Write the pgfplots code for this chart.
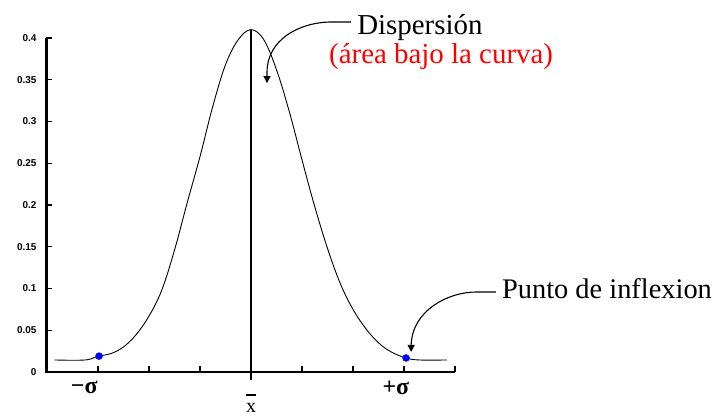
\documentclass[border=0pt]{standalone}
\usepackage{fontspec}
\setmainfont{Liberation Serif}
\newfontfamily\labelsans{Liberation Sans}
\usepackage{pgfplots}
\pgfplotsset{compat=1.18}
\usetikzlibrary{arrows.meta}
\begin{document}
\begin{tikzpicture}
\path[use as bounding box] (0,0) rectangle (720bp,416bp);
\begin{axis}[
  at={(46bp,44bp)}, anchor=south west,
  width=409bp, height=334bp, scale only axis,
  xmin=-4.02, xmax=4.0, ymin=0, ymax=0.4,
  axis x line*=bottom, axis y line*=left,
  axis line style={black, line width=2bp},
  tick align=inside, major tick length=6bp,
  tick style={black, line width=1.3bp},
  xtick={-3,-2,-1,1,2,3,4}, xticklabels={},
  ytick={0,0.05,0.1,0.15,0.2,0.25,0.3,0.35,0.4},
  yticklabels={0,0.05,0.1,0.15,0.2,0.25,0.3,0.35,0.4},
  yticklabel style={font=\labelsans\bfseries\fontsize{10}{10}\selectfont, xshift=-6bp},
  clip=false,
]
% frame lines
\addplot[black, line width=2bp] coordinates {(-4.02,0.4) (-4.02,0) (4.0,0)};
\addplot[black, line width=1.6bp] coordinates {(-3.995,0.4) (-3.995,0)};
% normal curve with flat tails
\addplot[black, line width=0.9bp, smooth, tension=0.6] coordinates {
  (-3.85,0.0144) (-3.25,0.0144) (-3.0,0.019) (-2.75,0.022) (-2.5,0.030)
  (-2.25,0.045) (-2.0,0.067) (-1.75,0.098) (-1.5,0.146) (-1.25,0.203)
  (-1.0,0.258) (-0.75,0.318) (-0.5,0.368) (-0.25,0.398) (0,0.41)
  (0.25,0.398) (0.5,0.362) (0.75,0.312) (1.0,0.254) (1.25,0.198)
  (1.5,0.148) (1.75,0.106) (2.0,0.075) (2.25,0.052) (2.5,0.035)
  (2.75,0.024) (3.04,0.0168) (3.3,0.0144) (3.84,0.0144)
};
% mean
\addplot[black, line width=1.6bp] coordinates {(0,-0.0096) (0,0.41)};
% inflection points
\addplot[only marks, mark=*, mark size=3.5bp, blue] coordinates {(-2.98,0.019) (3.04,0.0168)};

% axis labels
\node[font=\bfseries\fontsize{24}{24}\selectfont, inner sep=0] at (axis cs:-3.27,-0.019) {−σ};
\node[font=\bfseries\fontsize{24}{24}\selectfont, inner sep=0] at (axis cs:2.84,-0.019) {+σ};
\node[font=\fontsize{20}{20}\selectfont, inner sep=0] at (axis cs:0,-0.043) {x};
\draw[black, line width=1.4bp] (axis cs:-0.1,-0.0275) -- (axis cs:0.1,-0.0275);

% annotations
\draw[line width=1.1bp, -{Triangle[width=7bp,length=7bp]}]
  (axis cs:1.96,0.4192) -- (axis cs:1.59,0.4192)
  .. controls (axis cs:0.94,0.4192) and (axis cs:0.314,0.3976) .. (axis cs:0.314,0.3593)
  -- (axis cs:0.314,0.346);
\draw[line width=1.1bp, -{Triangle[width=7bp,length=7bp]}]
  (axis cs:4.80,0.0958) -- (axis cs:4.41,0.0958)
  .. controls (axis cs:3.88,0.0958) and (axis cs:3.16,0.0743) .. (axis cs:3.14,0.0323)
  -- (axis cs:3.14,0.024);
\node[anchor=base west, inner sep=0, font=\fontsize{29}{29}\selectfont] at (axis cs:2.08,0.4036) {Dispersión};
\node[anchor=base west, inner sep=0, text=red, font=\fontsize{29}{29}\selectfont] at (axis cs:1.53,0.370) {(área bajo la curva)};
\node[anchor=base west, inner sep=0, font=\fontsize{28.5}{28.5}\selectfont] at (axis cs:4.92,0.0886) {Punto de inflexion};
\end{axis}
\end{tikzpicture}
\end{document}
